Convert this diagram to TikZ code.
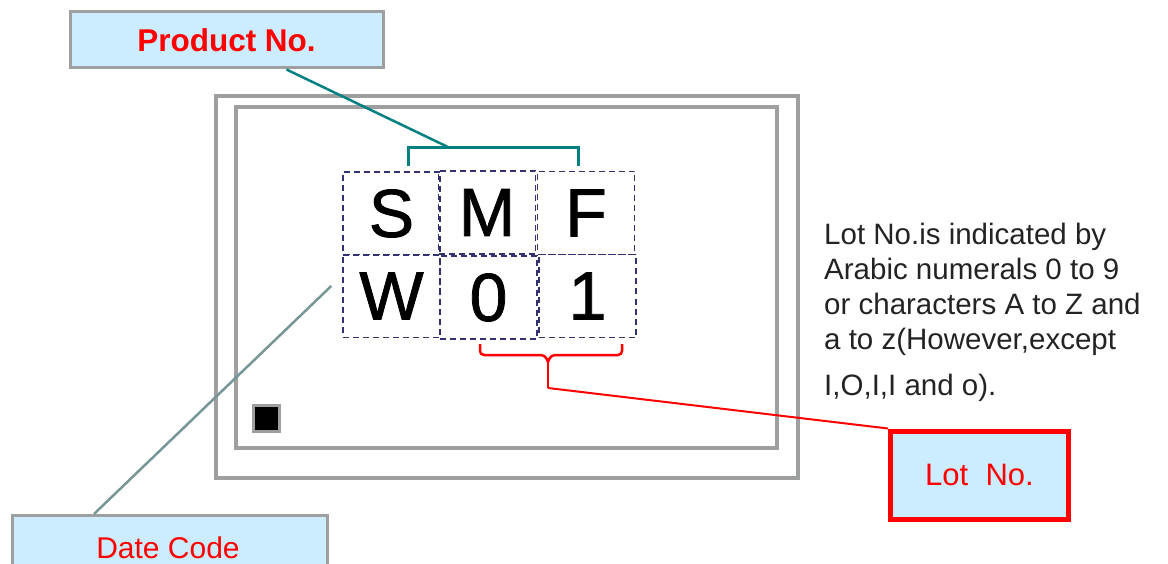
\documentclass[tikz,border=0pt]{standalone}
\usepackage{fontspec}
\setmainfont{Liberation Sans}
\newfontfamily\cellfont[FakeBold=1.2]{Liberation Sans}
\definecolor{boxfill}{RGB}{204,236,255}
\definecolor{frame}{RGB}{158,160,160}
\definecolor{tealline}{RGB}{0,128,128}
\definecolor{cellline}{RGB}{50,50,115}
\definecolor{lotred}{RGB}{255,0,0}
\definecolor{dateline}{RGB}{120,150,150}
\definecolor{txt}{RGB}{35,35,35}
\tikzset{
  label box/.style={draw=frame, line width=3pt, fill=boxfill, inner sep=0pt},
  cell/.style={draw=cellline, dashed, dash pattern=on 6pt off 4pt, line width=1.5pt,
    minimum width=97pt, minimum height=83pt, inner sep=0pt,
    font=\cellfont\fontsize{68}{72}\selectfont},
}
\begin{document}
\begin{tikzpicture}[x=1pt,y=-1pt]
\useasboundingbox (0,0) rectangle (1168,564);

% package outline
\draw[frame, line width=4pt] (216,96) rectangle (798,478);
\draw[frame, line width=4pt] (236,107) rectangle (777,448);
\draw[frame, line width=3pt, fill=black] (253,405) rectangle (279,431);

% marking cells
\node[cell] (S) at (391.5,213.5) {S};
\node[cell] (M) at (487,212.5) {M};
\node[cell] (F) at (586,213) {F};
\node[cell] (W) at (391.5,296) {W};
\node[cell] (d0) at (488.5,297.5) {0};
\node[cell] (d1) at (587.5,296) {1};

% label boxes
\node[label box, minimum width=313pt, minimum height=56pt,
  text=lotred, font=\fontsize{31.5}{34}\selectfont\bfseries] (prod) at (226.5,40) {Product No.};
\node[label box, minimum width=315pt, minimum height=70pt, anchor=north west] (date) at (11,514) {};
\node[text=lotred, font=\fontsize{30}{33}\selectfont, inner sep=0pt] (datetext) at (168,548) {Date Code};
\node[draw=lotred, line width=5pt, fill=boxfill, minimum width=178pt, minimum height=88pt,
  inner sep=0pt, text=lotred, font=\fontsize{31}{34}\selectfont] (lot) at (979.5,475) {Lot\ \ No.};

% product number bracket
\coordinate (pb) at (450,148);
\draw[tealline, line width=3pt] (408,166) -- (408,148) -- (578,148) -- (578,166);
\draw[tealline, line width=2.5pt] ([xshift=218pt]prod.south west) -- (pb);

% lot number brace
\coordinate (lb) at (548,388);
\draw[lotred, line width=2.5pt, rounded corners=4pt]
  (480,344) -- (480,355) -- (545,355) -- (548,362);
\draw[lotred, line width=2.5pt, rounded corners=4pt]
  (622,344) -- (622,355) -- (551,355) -- (548,362);
\draw[lotred, line width=2.5pt] (548,360) -- (lb);
\draw[lotred, line width=2pt] (lb) -- (lot.north west);

% date code leader
\draw[dateline, line width=2.5pt] ([xshift=-11pt,yshift=10pt]W.west) -- ([xshift=83pt]date.north west);

% explanatory note
\node[anchor=north west, align=left, text=txt, inner sep=0pt,
  font=\fontsize{29.5}{35}\selectfont] (note) at (824,223)
  {Lot No.is indicated by\\Arabic numerals 0 to 9\\or characters A to Z and\\a to z(However,except\\[11pt]I,O,I,I and o).};
\end{tikzpicture}
\end{document}
